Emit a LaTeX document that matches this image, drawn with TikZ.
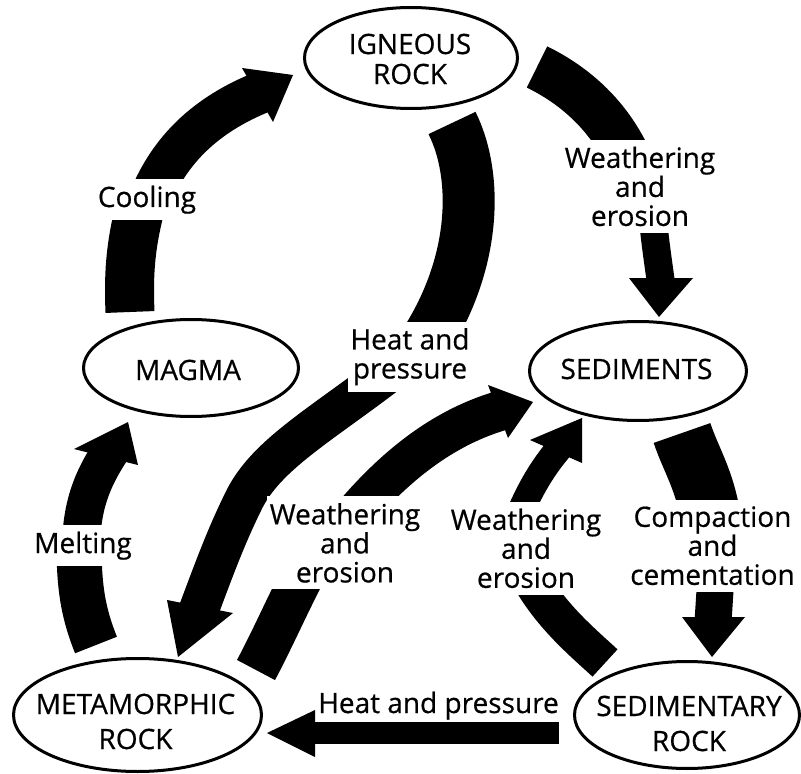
\documentclass[tikz,border=0pt]{standalone}
\usepackage{fontspec}
\setmainfont{Open Sans}[FakeBold=0.6]
\usetikzlibrary{shapes.geometric}
\begin{document}
\begin{tikzpicture}[x=0.75pt,y=-0.75pt,
  ell/.style={draw, line width=2.25pt, ellipse, inner sep=0pt},
  etxt/.style={font=\fontsize{21}{22.5}\selectfont, align=center, inner sep=0pt},
  etxttwo/.style={font=\fontsize{21}{26.25}\selectfont, align=center, inner sep=0pt},
  lbl/.style={fill=white, inner xsep=2pt, inner ysep=5pt, align=center, font=\fontsize{21}{21.75}\selectfont},
  head/.style={fill=black}
]
\useasboundingbox (0,0) rectangle (801,774);

% rock ellipses
\node[ell, minimum width=159.75pt, minimum height=75.75pt] (ign) at (411,58) {};
\node[etxt] (igntxt) at (410,59) {IGNEOUS\\ROCK};
\node[ell, minimum width=161.25pt, minimum height=72.75pt] (mag) at (191,368) {};
\node[etxt] (magtxt) at (188,370) {MAGMA};
\node[ell, minimum width=162.75pt, minimum height=74.25pt] (sed) at (638,371) {};
\node[etxt] (sedtxt) at (636.5,369) {SEDIMENTS};
\node[ell, minimum width=186pt, minimum height=84.75pt] (met) at (137.5,715) {};
\node[etxttwo] (mettxt) at (135.5,721.5) {METAMORPHIC\\ROCK};
\node[ell, minimum width=168.75pt, minimum height=80.25pt] (sry) at (687,715) {};
\node[etxttwo] (srytxt) at (689,723.5) {SEDIMENTARY\\ROCK};

% A: Cooling (magma -> igneous)
\draw[line width=36.75pt] (130,312) .. controls (128,265) and (132,235) .. (145,190);
\draw[line width=31.5pt] (150,198) .. controls (170,150) and (205,115) .. (262,92);
\fill[head] (242,68) -- (293,75) -- (273,122) -- cycle;

% B: Weathering (igneous -> sediments)
\draw[line width=34.5pt] (537,67) .. controls (570,83) and (608,112) .. (630,162);
\draw[line width=21pt] (651,200) .. controls (655,240) .. (661,283);
\fill[head] (629,278) -- (693,278) -- (659,317) -- cycle;

% C: Heat and pressure (igneous -> metamorphic)
\draw[line width=39pt] (452,123) .. controls (478,175) and (478,265) .. (420,350);
\draw[line width=30pt] (410,356) .. controls (330,420) and (270,450) .. (245,498) .. controls (225,538) and (212,575) .. (198,612);
\fill[head] (167,600) -- (233,613) -- (178,657) -- cycle;

% D: Weathering (metamorphic -> sediments)
\draw[line width=32.25pt] (256,670) .. controls (272,640) and (285,610) .. (303,575);
\draw[line width=30pt] (345,525) .. controls (390,470) and (440,428) .. (503,410);
\fill[head] (488,385) -- (533,402) -- (508,438) -- cycle;

% E: Weathering (sedimentary -> sediments)
\draw[line width=27.75pt] (605,663) .. controls (580,640) and (550,615) .. (528,575);
\draw[line width=20.25pt] (515,525) .. controls (527,495) and (540,470) .. (562,445);
\fill[head] (530,440) -- (582,418) -- (582,463) -- cycle;

% F: Compaction (sediments -> sedimentary)
\draw[line width=45pt] (682,433) .. controls (691,460) and (705,480) .. (711,520);
\draw[line width=27.75pt] (716,575) -- (713,622);
\fill[head] (682,617) -- (745,617) -- (712,657) -- cycle;

% G: Heat and pressure (sedimentary -> metamorphic)
\draw[line width=16.5pt] (559,733) -- (310,733);
\fill[head] (315,710) -- (267,733) -- (315,757) -- cycle;

% H: Melting (metamorphic -> magma)
\draw[line width=33.75pt] (96,645) .. controls (84,615) and (79,590) .. (79,545);
\draw[line width=28.5pt] (81,545) .. controls (82,505) and (92,480) .. (110,452);
\fill[head] (74,449) -- (128,422) -- (138,465) -- cycle;

% labels
\node[lbl, anchor=base] (lcool) at (147,207) {Cooling};
\node[lbl] (lwe1) at (640,186.4) {Weathering\\and\\erosion};
\node[lbl] (lhp1) at (410,356.7) {Heat and\\pressure};
\node[lbl] (lwe2) at (345,542.9) {Weathering\\and\\erosion};
\node[lbl] (lwe3) at (526,548.3) {Weathering\\and\\erosion};
\node[lbl] (lcomp) at (712.5,545.7) {Compaction\\and\\cementation};
\node[lbl, anchor=base] (lmelt) at (83,553) {Melting};
\node[lbl, fill=none, anchor=base] (lhp2) at (438.5,713) {Heat and pressure};
\end{tikzpicture}
\end{document}
